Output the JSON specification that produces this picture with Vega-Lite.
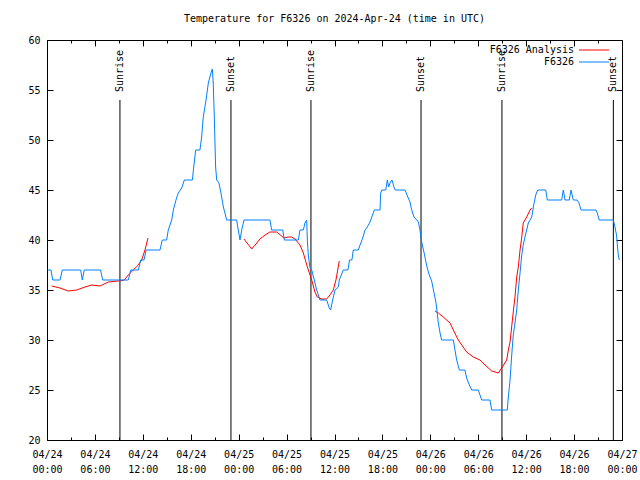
{
  "$schema": "https://vega.github.io/schema/vega-lite/v6.json",
  "width": 575,
  "height": 400,
  "autosize": {"type": "none"},
  "padding": {"left": 47, "top": 40, "right": 18, "bottom": 40},
  "background": "white",
  "title": {"text": "Temperature for F6326 on 2024-Apr-24 (time in UTC)", "font": "DejaVu Sans Mono", "fontSize": 10, "fontWeight": "normal", "color": "black", "offset": 11},
  "config": {
    "view": {"stroke": "black", "strokeWidth": 1},
    "axis": {"grid": false, "domain": false, "tickColor": "black", "labelColor": "black", "labelFont": "DejaVu Sans Mono", "labelFontSize": 10, "titleColor": "black", "titleFont": "Liberation Sans", "titleFontSize": 9, "titleFontWeight": "normal"},
    "legend": {"orient": "none", "legendX": 541.5, "legendY": 4.5, "symbolType": "M-3,0L3,0", "symbolSize": 100, "symbolStrokeWidth": 1, "labelAlign": "right", "labelOffset": -25.5, "labelFont": "DejaVu Sans Mono", "labelFontSize": 10, "labelColor": "black", "rowPadding": 1}
  },
  "datasets": {
    "events": [
      {"t": "2024-04-24T09:08:00Z", "event": "Sunrise"},
      {"t": "2024-04-24T23:02:00Z", "event": "Sunset"},
      {"t": "2024-04-25T09:03:00Z", "event": "Sunrise"},
      {"t": "2024-04-25T22:50:00Z", "event": "Sunset"},
      {"t": "2024-04-26T08:58:00Z", "event": "Sunrise"},
      {"t": "2024-04-26T22:55:00Z", "event": "Sunset"}
    ],
    "analysis": [
      {"t": "2024-04-24T00:35:00Z", "temp": 35.4, "seg": 1},
      {"t": "2024-04-24T01:38:00Z", "temp": 35.2, "seg": 1},
      {"t": "2024-04-24T02:40:00Z", "temp": 34.9, "seg": 1},
      {"t": "2024-04-24T03:43:00Z", "temp": 35.0, "seg": 1},
      {"t": "2024-04-24T04:45:00Z", "temp": 35.3, "seg": 1},
      {"t": "2024-04-24T05:36:00Z", "temp": 35.5, "seg": 1},
      {"t": "2024-04-24T06:38:00Z", "temp": 35.4, "seg": 1},
      {"t": "2024-04-24T07:41:00Z", "temp": 35.8, "seg": 1},
      {"t": "2024-04-24T08:56:00Z", "temp": 35.9, "seg": 1},
      {"t": "2024-04-24T09:41:00Z", "temp": 36.0, "seg": 1},
      {"t": "2024-04-24T10:11:00Z", "temp": 36.5, "seg": 1},
      {"t": "2024-04-24T10:48:00Z", "temp": 37.0, "seg": 1},
      {"t": "2024-04-24T11:26:00Z", "temp": 37.5, "seg": 1},
      {"t": "2024-04-24T11:51:00Z", "temp": 38.0, "seg": 1},
      {"t": "2024-04-24T12:16:00Z", "temp": 39.0, "seg": 1},
      {"t": "2024-04-24T12:39:00Z", "temp": 40.2, "seg": 1},
      {"t": "2024-04-25T00:40:00Z", "temp": 40.1, "seg": 2},
      {"t": "2024-04-25T01:38:00Z", "temp": 39.1, "seg": 2},
      {"t": "2024-04-25T02:10:00Z", "temp": 39.6, "seg": 2},
      {"t": "2024-04-25T02:40:00Z", "temp": 40.1, "seg": 2},
      {"t": "2024-04-25T03:18:00Z", "temp": 40.5, "seg": 2},
      {"t": "2024-04-25T03:55:00Z", "temp": 40.8, "seg": 2},
      {"t": "2024-04-25T04:46:00Z", "temp": 40.8, "seg": 2},
      {"t": "2024-04-25T05:41:00Z", "temp": 40.2, "seg": 2},
      {"t": "2024-04-25T06:13:00Z", "temp": 40.3, "seg": 2},
      {"t": "2024-04-25T06:38:00Z", "temp": 40.3, "seg": 2},
      {"t": "2024-04-25T07:03:00Z", "temp": 40.1, "seg": 2},
      {"t": "2024-04-25T07:41:00Z", "temp": 39.5, "seg": 2},
      {"t": "2024-04-25T08:06:00Z", "temp": 38.7, "seg": 2},
      {"t": "2024-04-25T08:36:00Z", "temp": 37.3, "seg": 2},
      {"t": "2024-04-25T09:09:00Z", "temp": 36.0, "seg": 2},
      {"t": "2024-04-25T09:33:00Z", "temp": 34.8, "seg": 2},
      {"t": "2024-04-25T09:51:00Z", "temp": 34.3, "seg": 2},
      {"t": "2024-04-25T10:24:00Z", "temp": 34.1, "seg": 2},
      {"t": "2024-04-25T11:01:00Z", "temp": 34.1, "seg": 2},
      {"t": "2024-04-25T11:26:00Z", "temp": 34.5, "seg": 2},
      {"t": "2024-04-25T11:51:00Z", "temp": 35.0, "seg": 2},
      {"t": "2024-04-25T12:11:00Z", "temp": 36.0, "seg": 2},
      {"t": "2024-04-25T12:36:00Z", "temp": 37.9, "seg": 2},
      {"t": "2024-04-26T00:35:00Z", "temp": 32.9, "seg": 3},
      {"t": "2024-04-26T01:00:00Z", "temp": 32.7, "seg": 3},
      {"t": "2024-04-26T01:37:00Z", "temp": 32.3, "seg": 3},
      {"t": "2024-04-26T02:28:00Z", "temp": 31.7, "seg": 3},
      {"t": "2024-04-26T02:53:00Z", "temp": 31.0, "seg": 3},
      {"t": "2024-04-26T03:30:00Z", "temp": 30.0, "seg": 3},
      {"t": "2024-04-26T03:56:00Z", "temp": 29.5, "seg": 3},
      {"t": "2024-04-26T04:33:00Z", "temp": 28.8, "seg": 3},
      {"t": "2024-04-26T05:23:00Z", "temp": 28.3, "seg": 3},
      {"t": "2024-04-26T06:13:00Z", "temp": 28.0, "seg": 3},
      {"t": "2024-04-26T06:51:00Z", "temp": 27.5, "seg": 3},
      {"t": "2024-04-26T07:41:00Z", "temp": 26.9, "seg": 3},
      {"t": "2024-04-26T08:31:00Z", "temp": 26.7, "seg": 3},
      {"t": "2024-04-26T08:56:00Z", "temp": 27.2, "seg": 3},
      {"t": "2024-04-26T09:34:00Z", "temp": 28.0, "seg": 3},
      {"t": "2024-04-26T09:46:00Z", "temp": 29.0, "seg": 3},
      {"t": "2024-04-26T09:59:00Z", "temp": 29.8, "seg": 3},
      {"t": "2024-04-26T10:11:00Z", "temp": 31.3, "seg": 3},
      {"t": "2024-04-26T10:23:00Z", "temp": 32.8, "seg": 3},
      {"t": "2024-04-26T10:36:00Z", "temp": 34.3, "seg": 3},
      {"t": "2024-04-26T10:49:00Z", "temp": 36.3, "seg": 3},
      {"t": "2024-04-26T11:01:00Z", "temp": 37.3, "seg": 3},
      {"t": "2024-04-26T11:14:00Z", "temp": 39.0, "seg": 3},
      {"t": "2024-04-26T11:26:00Z", "temp": 40.2, "seg": 3},
      {"t": "2024-04-26T11:38:00Z", "temp": 41.7, "seg": 3},
      {"t": "2024-04-26T11:51:00Z", "temp": 42.0, "seg": 3},
      {"t": "2024-04-26T12:04:00Z", "temp": 42.3, "seg": 3},
      {"t": "2024-04-26T12:29:00Z", "temp": 43.0, "seg": 3},
      {"t": "2024-04-26T12:42:00Z", "temp": 43.2, "seg": 3}
    ],
    "obs": [
      {"t": "2024-04-24T00:05:00Z", "temp": 37},
      {"t": "2024-04-24T00:30:00Z", "temp": 37},
      {"t": "2024-04-24T00:43:00Z", "temp": 36},
      {"t": "2024-04-24T01:38:00Z", "temp": 36},
      {"t": "2024-04-24T01:55:00Z", "temp": 37},
      {"t": "2024-04-24T04:13:00Z", "temp": 37},
      {"t": "2024-04-24T04:25:00Z", "temp": 36},
      {"t": "2024-04-24T04:40:00Z", "temp": 37},
      {"t": "2024-04-24T06:43:00Z", "temp": 37},
      {"t": "2024-04-24T06:58:00Z", "temp": 36},
      {"t": "2024-04-24T10:11:00Z", "temp": 36},
      {"t": "2024-04-24T10:29:00Z", "temp": 37},
      {"t": "2024-04-24T11:26:00Z", "temp": 37},
      {"t": "2024-04-24T11:44:00Z", "temp": 38},
      {"t": "2024-04-24T12:09:00Z", "temp": 38},
      {"t": "2024-04-24T12:24:00Z", "temp": 39},
      {"t": "2024-04-24T14:09:00Z", "temp": 39},
      {"t": "2024-04-24T14:26:00Z", "temp": 40},
      {"t": "2024-04-24T14:59:00Z", "temp": 40},
      {"t": "2024-04-24T15:11:00Z", "temp": 41},
      {"t": "2024-04-24T15:37:00Z", "temp": 42},
      {"t": "2024-04-24T15:49:00Z", "temp": 43},
      {"t": "2024-04-24T16:09:00Z", "temp": 44},
      {"t": "2024-04-24T16:26:00Z", "temp": 44.7},
      {"t": "2024-04-24T16:52:00Z", "temp": 45.2},
      {"t": "2024-04-24T17:12:00Z", "temp": 46},
      {"t": "2024-04-24T18:12:00Z", "temp": 46},
      {"t": "2024-04-24T18:24:00Z", "temp": 47.5},
      {"t": "2024-04-24T18:37:00Z", "temp": 49},
      {"t": "2024-04-24T19:09:00Z", "temp": 49},
      {"t": "2024-04-24T19:22:00Z", "temp": 50.3},
      {"t": "2024-04-24T19:34:00Z", "temp": 52.3},
      {"t": "2024-04-24T19:55:00Z", "temp": 54},
      {"t": "2024-04-24T20:12:00Z", "temp": 55.7},
      {"t": "2024-04-24T20:32:00Z", "temp": 56.7},
      {"t": "2024-04-24T20:42:00Z", "temp": 57.1},
      {"t": "2024-04-24T20:49:00Z", "temp": 55.7},
      {"t": "2024-04-24T20:57:00Z", "temp": 52.3},
      {"t": "2024-04-24T21:02:00Z", "temp": 49.7},
      {"t": "2024-04-24T21:07:00Z", "temp": 47.3},
      {"t": "2024-04-24T21:15:00Z", "temp": 46},
      {"t": "2024-04-24T21:32:00Z", "temp": 45.7},
      {"t": "2024-04-24T21:47:00Z", "temp": 44.7},
      {"t": "2024-04-24T22:05:00Z", "temp": 43.3},
      {"t": "2024-04-24T22:17:00Z", "temp": 42.7},
      {"t": "2024-04-24T22:30:00Z", "temp": 42},
      {"t": "2024-04-24T23:45:00Z", "temp": 42},
      {"t": "2024-04-24T23:57:00Z", "temp": 41},
      {"t": "2024-04-25T00:10:00Z", "temp": 40},
      {"t": "2024-04-25T00:23:00Z", "temp": 41},
      {"t": "2024-04-25T00:40:00Z", "temp": 42},
      {"t": "2024-04-25T03:55:00Z", "temp": 42},
      {"t": "2024-04-25T04:08:00Z", "temp": 41},
      {"t": "2024-04-25T05:31:00Z", "temp": 41},
      {"t": "2024-04-25T05:43:00Z", "temp": 40},
      {"t": "2024-04-25T07:28:00Z", "temp": 40},
      {"t": "2024-04-25T07:41:00Z", "temp": 41},
      {"t": "2024-04-25T08:06:00Z", "temp": 41},
      {"t": "2024-04-25T08:18:00Z", "temp": 41.7},
      {"t": "2024-04-25T08:31:00Z", "temp": 42},
      {"t": "2024-04-25T08:36:00Z", "temp": 40},
      {"t": "2024-04-25T08:43:00Z", "temp": 38.5},
      {"t": "2024-04-25T08:56:00Z", "temp": 37.2},
      {"t": "2024-04-25T09:09:00Z", "temp": 37},
      {"t": "2024-04-25T09:28:00Z", "temp": 36},
      {"t": "2024-04-25T09:46:00Z", "temp": 35},
      {"t": "2024-04-25T10:11:00Z", "temp": 34},
      {"t": "2024-04-25T11:01:00Z", "temp": 34},
      {"t": "2024-04-25T11:21:00Z", "temp": 33.2},
      {"t": "2024-04-25T11:31:00Z", "temp": 33},
      {"t": "2024-04-25T11:46:00Z", "temp": 34},
      {"t": "2024-04-25T12:04:00Z", "temp": 35},
      {"t": "2024-04-25T12:29:00Z", "temp": 35.3},
      {"t": "2024-04-25T12:36:00Z", "temp": 36},
      {"t": "2024-04-25T13:06:00Z", "temp": 37},
      {"t": "2024-04-25T13:41:00Z", "temp": 37},
      {"t": "2024-04-25T13:53:00Z", "temp": 38},
      {"t": "2024-04-25T14:11:00Z", "temp": 38},
      {"t": "2024-04-25T14:21:00Z", "temp": 39},
      {"t": "2024-04-25T14:59:00Z", "temp": 39},
      {"t": "2024-04-25T15:12:00Z", "temp": 39.5},
      {"t": "2024-04-25T15:32:00Z", "temp": 40.2},
      {"t": "2024-04-25T15:49:00Z", "temp": 41},
      {"t": "2024-04-25T16:02:00Z", "temp": 41.2},
      {"t": "2024-04-25T16:27:00Z", "temp": 41.8},
      {"t": "2024-04-25T16:51:00Z", "temp": 42.7},
      {"t": "2024-04-25T16:59:00Z", "temp": 43},
      {"t": "2024-04-25T17:42:00Z", "temp": 43},
      {"t": "2024-04-25T17:47:00Z", "temp": 44.7},
      {"t": "2024-04-25T17:55:00Z", "temp": 45},
      {"t": "2024-04-25T18:25:00Z", "temp": 45},
      {"t": "2024-04-25T18:37:00Z", "temp": 46},
      {"t": "2024-04-25T18:47:00Z", "temp": 45.3},
      {"t": "2024-04-25T18:57:00Z", "temp": 45.7},
      {"t": "2024-04-25T19:12:00Z", "temp": 46},
      {"t": "2024-04-25T19:29:00Z", "temp": 45.2},
      {"t": "2024-04-25T19:37:00Z", "temp": 45},
      {"t": "2024-04-25T20:50:00Z", "temp": 45},
      {"t": "2024-04-25T21:14:00Z", "temp": 44.2},
      {"t": "2024-04-25T21:27:00Z", "temp": 43.8},
      {"t": "2024-04-25T21:40:00Z", "temp": 43},
      {"t": "2024-04-25T21:57:00Z", "temp": 42.3},
      {"t": "2024-04-25T22:18:00Z", "temp": 42},
      {"t": "2024-04-25T22:30:00Z", "temp": 41.8},
      {"t": "2024-04-25T22:42:00Z", "temp": 41},
      {"t": "2024-04-25T22:55:00Z", "temp": 39.8},
      {"t": "2024-04-25T23:12:00Z", "temp": 38.8},
      {"t": "2024-04-25T23:27:00Z", "temp": 37.8},
      {"t": "2024-04-25T23:37:00Z", "temp": 37.2},
      {"t": "2024-04-25T23:52:00Z", "temp": 36.5},
      {"t": "2024-04-26T00:10:00Z", "temp": 35.9},
      {"t": "2024-04-26T00:28:00Z", "temp": 34.7},
      {"t": "2024-04-26T00:43:00Z", "temp": 33.7},
      {"t": "2024-04-26T01:00:00Z", "temp": 31.7},
      {"t": "2024-04-26T01:13:00Z", "temp": 30.7},
      {"t": "2024-04-26T01:25:00Z", "temp": 30},
      {"t": "2024-04-26T02:53:00Z", "temp": 30},
      {"t": "2024-04-26T03:05:00Z", "temp": 29},
      {"t": "2024-04-26T03:18:00Z", "temp": 28},
      {"t": "2024-04-26T03:38:00Z", "temp": 27},
      {"t": "2024-04-26T04:20:00Z", "temp": 27},
      {"t": "2024-04-26T04:33:00Z", "temp": 26.2},
      {"t": "2024-04-26T04:53:00Z", "temp": 25.5},
      {"t": "2024-04-26T05:11:00Z", "temp": 25},
      {"t": "2024-04-26T06:00:00Z", "temp": 25},
      {"t": "2024-04-26T06:13:00Z", "temp": 24.5},
      {"t": "2024-04-26T06:26:00Z", "temp": 24},
      {"t": "2024-04-26T07:28:00Z", "temp": 24},
      {"t": "2024-04-26T07:41:00Z", "temp": 23},
      {"t": "2024-04-26T09:38:00Z", "temp": 23},
      {"t": "2024-04-26T09:46:00Z", "temp": 24.3},
      {"t": "2024-04-26T09:59:00Z", "temp": 26},
      {"t": "2024-04-26T10:11:00Z", "temp": 28.4},
      {"t": "2024-04-26T10:23:00Z", "temp": 30.5},
      {"t": "2024-04-26T10:36:00Z", "temp": 31.7},
      {"t": "2024-04-26T10:49:00Z", "temp": 33},
      {"t": "2024-04-26T11:01:00Z", "temp": 35},
      {"t": "2024-04-26T11:14:00Z", "temp": 36.7},
      {"t": "2024-04-26T11:26:00Z", "temp": 38.4},
      {"t": "2024-04-26T11:38:00Z", "temp": 39.5},
      {"t": "2024-04-26T11:51:00Z", "temp": 40.3},
      {"t": "2024-04-26T12:04:00Z", "temp": 41},
      {"t": "2024-04-26T12:16:00Z", "temp": 41.7},
      {"t": "2024-04-26T12:29:00Z", "temp": 42},
      {"t": "2024-04-26T12:42:00Z", "temp": 42.3},
      {"t": "2024-04-26T12:54:00Z", "temp": 43.3},
      {"t": "2024-04-26T13:12:00Z", "temp": 44.5},
      {"t": "2024-04-26T13:27:00Z", "temp": 45},
      {"t": "2024-04-26T14:27:00Z", "temp": 45},
      {"t": "2024-04-26T14:39:00Z", "temp": 44},
      {"t": "2024-04-26T16:27:00Z", "temp": 44},
      {"t": "2024-04-26T16:39:00Z", "temp": 45},
      {"t": "2024-04-26T16:52:00Z", "temp": 44},
      {"t": "2024-04-26T17:24:00Z", "temp": 44},
      {"t": "2024-04-26T17:37:00Z", "temp": 45},
      {"t": "2024-04-26T17:54:00Z", "temp": 44},
      {"t": "2024-04-26T18:22:00Z", "temp": 44},
      {"t": "2024-04-26T18:37:00Z", "temp": 43.7},
      {"t": "2024-04-26T18:52:00Z", "temp": 43},
      {"t": "2024-04-26T20:45:00Z", "temp": 43},
      {"t": "2024-04-26T20:54:00Z", "temp": 42.7},
      {"t": "2024-04-26T21:09:00Z", "temp": 42},
      {"t": "2024-04-26T22:55:00Z", "temp": 42},
      {"t": "2024-04-26T23:07:00Z", "temp": 41.3},
      {"t": "2024-04-26T23:20:00Z", "temp": 40.4},
      {"t": "2024-04-26T23:25:00Z", "temp": 39.5},
      {"t": "2024-04-26T23:32:00Z", "temp": 38.5},
      {"t": "2024-04-26T23:40:00Z", "temp": 38}
    ]
  },
  "resolve": {"axis": {"x": "independent", "y": "independent"}},
  "layer": [
    {
      "data": {"name": "events"},
      "mark": {"type": "rule", "color": "black", "strokeWidth": 1},
      "encoding": {
        "x": {"field": "t", "type": "temporal", "title": null,
          "scale": {"type": "utc", "domain": [1713916800000, 1714176000000]},
          "axis": {"orient": "bottom", "values": [1713916800000, 1713927600000, 1713938400000, 1713949200000, 1713960000000, 1713970800000, 1713981600000, 1713992400000, 1714003200000, 1714014000000, 1714024800000, 1714035600000, 1714046400000, 1714057200000, 1714068000000, 1714078800000, 1714089600000, 1714100400000, 1714111200000, 1714122000000, 1714132800000, 1714143600000, 1714154400000, 1714165200000, 1714176000000],
            "tickSize": {"condition": {"test": "utchours(datum.value) % 6 === 0", "value": -6}, "value": -3},
            "labelPadding": 15, "labelOverlap": false, "labelFlush": false, "labelBaseline": "top", "labelLineHeight": 15,
            "labelExpr": "utchours(datum.value) % 6 === 0 ? [utcFormat(datum.value, '%m/%d'), utcFormat(datum.value, '%H:%M')] : ''"}},
        "y": {"datum": 20, "type": "quantitative", "title": "degrees F",
          "scale": {"domain": [20, 60], "nice": false, "zero": false},
          "axis": {"orient": "left", "values": [20, 25, 30, 35, 40, 45, 50, 55, 60], "tickSize": -6, "labelPadding": 13, "titlePadding": 12}},
        "y2": {"datum": 54}
      }
    },
    {
      "data": {"name": "events"},
      "mark": {"type": "text", "angle": 270, "align": "left", "baseline": "middle", "font": "DejaVu Sans Mono", "fontSize": 10, "color": "black"},
      "encoding": {
        "x": {"field": "t", "type": "temporal", "axis": null},
        "y": {"datum": 54.8, "type": "quantitative", "axis": null},
        "text": {"field": "event"}
      }
    },
    {
      "data": {"name": "analysis"},
      "mark": {"type": "line", "strokeWidth": 1, "interpolate": "linear"},
      "encoding": {
        "x": {"field": "t", "type": "temporal", "axis": null},
        "y": {"field": "temp", "type": "quantitative", "axis": null},
        "detail": {"field": "seg"},
        "color": {"datum": "F6326 Analysis", "scale": {"domain": ["F6326 Analysis", "F6326"], "range": ["#ff0000", "#0080ff"]}}
      }
    },
    {
      "data": {"name": "obs"},
      "mark": {"type": "line", "strokeWidth": 1, "interpolate": "linear"},
      "encoding": {
        "x": {"field": "t", "type": "temporal", "title": null,
          "axis": {"orient": "top", "labels": false, "values": [1713916800000, 1713927600000, 1713938400000, 1713949200000, 1713960000000, 1713970800000, 1713981600000, 1713992400000, 1714003200000, 1714014000000, 1714024800000, 1714035600000, 1714046400000, 1714057200000, 1714068000000, 1714078800000, 1714089600000, 1714100400000, 1714111200000, 1714122000000, 1714132800000, 1714143600000, 1714154400000, 1714165200000, 1714176000000],
            "tickSize": {"condition": {"test": "utchours(datum.value) % 6 === 0", "value": -6}, "value": -3}}},
        "y": {"field": "temp", "type": "quantitative", "title": null,
          "axis": {"orient": "right", "labels": false, "values": [20, 25, 30, 35, 40, 45, 50, 55, 60], "tickSize": -6}},
        "color": {"datum": "F6326"}
      }
    }
  ]
}
